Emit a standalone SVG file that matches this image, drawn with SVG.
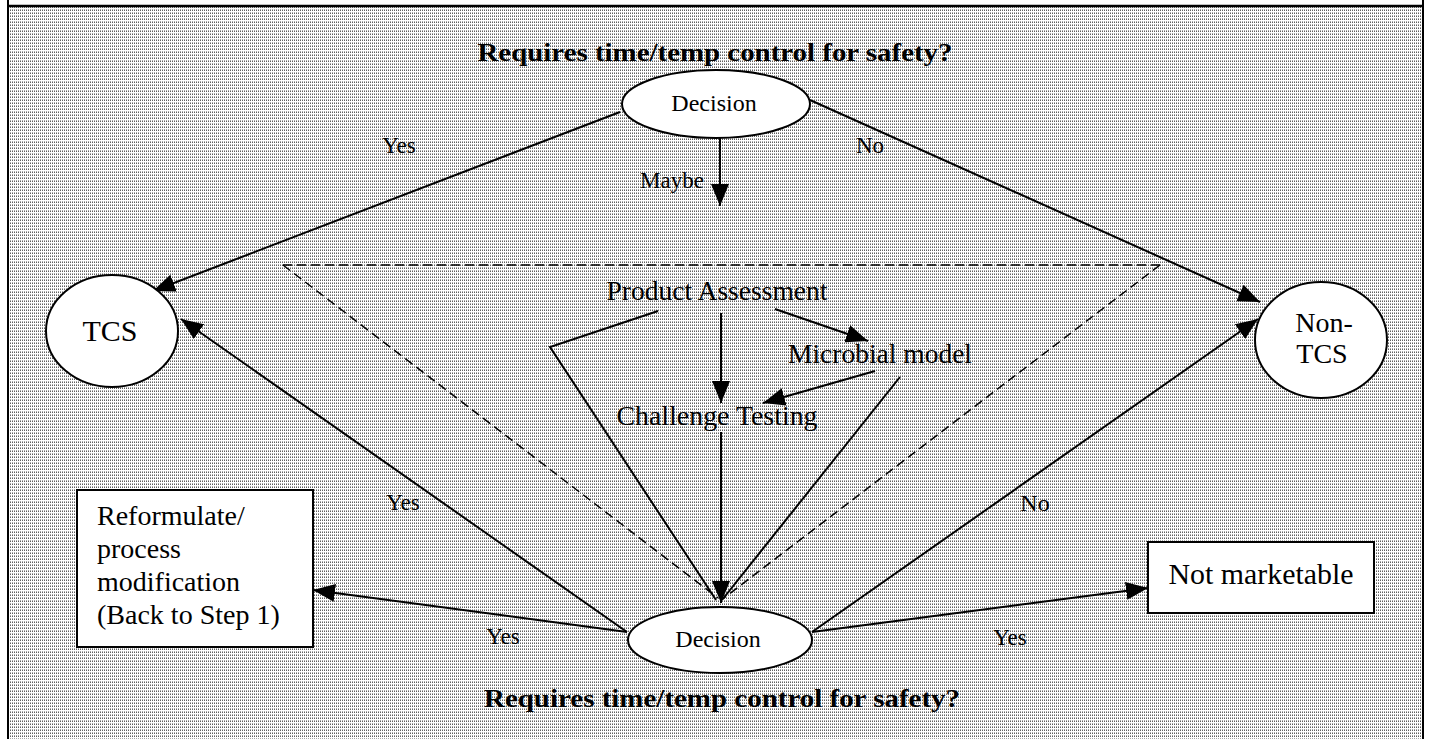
<svg xmlns="http://www.w3.org/2000/svg" width="1430" height="739" viewBox="0 0 1430 739" font-family="'Liberation Serif', 'Times New Roman', serif">
  <defs>
    <pattern id="dots" width="2" height="3" patternUnits="userSpaceOnUse">
      <rect width="2" height="3" fill="#ffffff"/>
      <rect x="0" y="0" width="1" height="1" fill="#a8a8a8"/>
      <rect x="0" y="1" width="1" height="1" fill="#606060"/>
    </pattern>
    <marker id="arr" markerUnits="userSpaceOnUse" markerWidth="22" markerHeight="18" refX="22" refY="9" orient="auto">
      <path d="M0,0 L22,9 L0,18 z" fill="#000"/>
    </marker>
    <style>
      text { font-family: "Liberation Serif", "Times New Roman", serif; fill: #000; }
      .b { font-weight: bold; }
      .ln { stroke: #000; stroke-width: 2; fill: none; }
      .ar { marker-end: url(#arr); }
      .dash { stroke: #000; stroke-width: 1.5; fill: none; stroke-dasharray: 9 5; }
      .nd { fill: #fff; stroke: #000; stroke-width: 2; }
    </style>
  </defs>

  <rect x="0" y="0" width="1430" height="739" fill="#fff"/>
  <rect x="9" y="7" width="1414" height="740" fill="url(#dots)"/>
  <line x1="8" y1="0" x2="8" y2="739" stroke="#000" stroke-width="2"/>
  <line x1="1423" y1="0" x2="1423" y2="739" stroke="#000" stroke-width="2"/>
  <line x1="8" y1="6" x2="1423" y2="6" stroke="#000" stroke-width="2.5"/>

  <g id="title-top">
    <text class="b" x="715" y="61" font-size="26" text-anchor="middle" textLength="475" lengthAdjust="spacingAndGlyphs">Requires time/temp control for safety?</text>
  </g>
  <g id="title-bottom">
    <text class="b" x="722" y="707" font-size="26" text-anchor="middle" textLength="476" lengthAdjust="spacingAndGlyphs">Requires time/temp control for safety?</text>
  </g>

  <g id="connectors">
    <polyline class="dash" points="283,265 1160,265"/>
    <polyline class="dash" points="283,265 718,598"/>
    <polyline class="dash" points="1160,265 724,598"/>
    <line class="ln ar" x1="620" y1="112" x2="153" y2="291"/>
    <line class="ln ar" x1="720" y1="138" x2="720" y2="206"/>
    <line class="ln ar" x1="810" y1="100" x2="1260" y2="302"/>
    <line class="ln ar" x1="721" y1="313" x2="721" y2="403"/>
    <line class="ln ar" x1="775" y1="309" x2="868" y2="341"/>
    <line class="ln ar" x1="875" y1="371" x2="763" y2="403"/>
    <polyline class="ln" points="658,311 550,347 716,600"/>
    <line class="ln" x1="900" y1="377" x2="722" y2="600"/>
    <line class="ln ar" x1="721" y1="432" x2="721" y2="603"/>
    <line class="ln ar" x1="627" y1="632" x2="181" y2="319"/>
    <line class="ln ar" x1="627" y1="632" x2="313" y2="590"/>
    <line class="ln ar" x1="812" y1="632" x2="1258" y2="319"/>
    <line class="ln ar" x1="812" y1="632" x2="1148" y2="588"/>
    <text x="399" y="153" font-size="23" text-anchor="middle">Yes</text>
    <text x="672" y="188" font-size="23" text-anchor="middle">Maybe</text>
    <text x="870" y="153" font-size="23" text-anchor="middle">No</text>
    <text x="403" y="510" font-size="23" text-anchor="middle">Yes</text>
    <text x="503" y="644" font-size="23" text-anchor="middle">Yes</text>
    <text x="1035" y="511" font-size="24" text-anchor="middle">No</text>
    <text x="1010" y="645" font-size="23" text-anchor="middle">Yes</text>
  </g>

  <g id="decision-top">
    <ellipse class="nd" cx="716" cy="104" rx="94" ry="34"/>
    <text x="714" y="111" font-size="24" text-anchor="middle">Decision</text>
  </g>
  <g id="decision-bottom">
    <ellipse class="nd" cx="720" cy="640" rx="92" ry="33"/>
    <text x="718" y="647" font-size="24" text-anchor="middle">Decision</text>
  </g>
  <g id="tcs">
    <ellipse class="nd" cx="112" cy="331" rx="66" ry="56"/>
    <text x="110" y="341" font-size="30" text-anchor="middle">TCS</text>
  </g>
  <g id="non-tcs">
    <ellipse class="nd" cx="1321" cy="340" rx="66" ry="58"/>
    <text x="1324" y="332" font-size="28" text-anchor="middle">Non-</text>
    <text x="1322" y="363" font-size="28" text-anchor="middle">TCS</text>
  </g>
  <g id="product-assessment">
    <text x="717" y="300" font-size="27" text-anchor="middle" textLength="221" lengthAdjust="spacingAndGlyphs">Product Assessment</text>
  </g>
  <g id="microbial-model">
    <text x="880" y="363" font-size="27" text-anchor="middle" textLength="184" lengthAdjust="spacingAndGlyphs">Microbial model</text>
  </g>
  <g id="challenge-testing">
    <text x="717" y="425" font-size="27" text-anchor="middle" textLength="201" lengthAdjust="spacingAndGlyphs">Challenge Testing</text>
  </g>
  <g id="reformulate">
    <rect class="nd" x="77" y="490" width="236" height="157"/>
    <text x="97" y="525" font-size="28">Reformulate/</text>
    <text x="97" y="558" font-size="28">process</text>
    <text x="97" y="591" font-size="28">modification</text>
    <text x="97" y="624" font-size="28">(Back to Step 1)</text>
  </g>
  <g id="not-marketable">
    <rect class="nd" x="1148" y="542" width="226" height="71"/>
    <text x="1261" y="584" font-size="29" text-anchor="middle" textLength="185" lengthAdjust="spacingAndGlyphs">Not marketable</text>
  </g>
</svg>
